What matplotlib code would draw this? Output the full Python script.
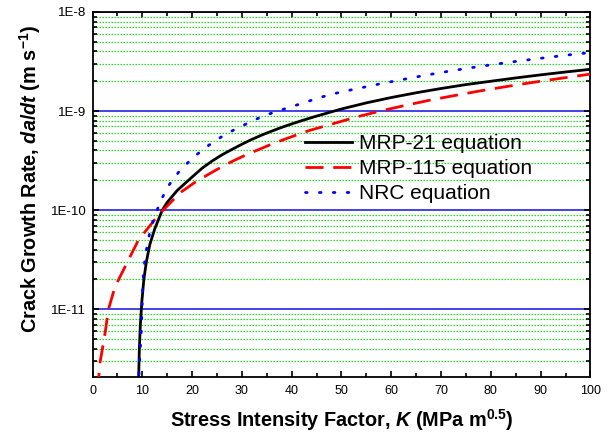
import numpy as np
import matplotlib
matplotlib.use("Agg")
import matplotlib.pyplot as plt
from matplotlib.ticker import LogLocator, MultipleLocator, FixedLocator, NullFormatter

plt.rcParams['font.family'] = ['Liberation Sans', 'DejaVu Sans']
plt.rcParams['mathtext.fontset'] = 'custom'
plt.rcParams['mathtext.rm'] = 'Liberation Sans:bold'
plt.rcParams['mathtext.bf'] = 'Liberation Sans:bold'
plt.rcParams['mathtext.it'] = 'Liberation Sans:italic:bold'

# ---- data ----
mrp21_K = [9.25, 9.4, 9.6, 9.9, 10.3, 10.8, 11.5, 12.5, 14.0, 15, 17, 19, 22, 24, 26, 28,
           30, 32, 34, 36, 38, 40, 42, 45, 50, 55, 60, 65, 70, 75, 80, 85, 90, 95, 100]
mrp21_rate = [2.0e-12, 4.0e-12, 7.0e-12, 1.2e-11, 2.0e-11, 3.0e-11, 4.5e-11, 6.5e-11,
              1.0e-10, 1.2e-10, 1.58e-10, 1.95e-10, 2.65e-10, 3.13e-10, 3.62e-10,
              4.1e-10, 4.63e-10, 5.18e-10, 5.73e-10, 6.28e-10, 6.85e-10, 7.42e-10,
              8.0e-10, 8.9e-10, 1.05e-9, 1.21e-9, 1.37e-9, 1.53e-9, 1.69e-9, 1.85e-9,
              2.0e-9, 2.16e-9, 2.32e-9, 2.48e-9, 2.64e-9]

mrp115_K = [1.0, 1.5, 2.5, 3.2, 4.5, 6.5, 9.2, 13.2, 17.6, 20.5, 23.6, 26, 28.3, 31,
            33.7, 36, 38.4, 41, 43.7, 47.7, 53.1, 58.5, 62.8, 67.8, 73.2, 77.9, 82.9,
            87.9, 92.9, 97.6, 100]
mrp115_rate = [1.5e-12, 2.9e-12, 5.7e-12, 1.0e-11, 1.68e-11, 2.67e-11, 4.98e-11, 8.9e-11,
               1.5e-10, 1.9e-10, 2.35e-10, 2.75e-10, 3.15e-10, 3.65e-10, 4.15e-10,
               4.65e-10, 5.15e-10, 5.75e-10, 6.4e-10, 7.3e-10, 8.75e-10, 1.02e-9,
               1.14e-9, 1.29e-9, 1.45e-9, 1.60e-9, 1.76e-9, 1.93e-9, 2.1e-9, 2.27e-9,
               2.36e-9]

nrc_K = [9.3, 9.5, 9.75, 9.9, 10.0, 10.1, 10.25, 10.6, 11.1, 11.7, 12.6, 13.8, 15.3,
         17.4, 20.1, 23.0, 25.8, 28.5, 31.3, 34.1, 37.0, 40.0, 42.6, 45.4, 48.3, 51.0,
         54.0, 57.0, 60.0, 65.0, 70.0, 75.0, 80.0, 85.0, 90.0, 95.0, 100.0]
nrc_rate = [2.2e-12, 3.4e-12, 5.5e-12, 9.0e-12, 1.25e-11, 1.75e-11, 2.45e-11, 3.43e-11,
            4.8e-11, 6.6e-11, 9.0e-11, 1.28e-10, 1.78e-10, 2.46e-10, 3.37e-10, 4.4e-10,
            5.46e-10, 6.5e-10, 7.6e-10, 8.84e-10, 9.93e-10, 1.11e-9, 1.22e-9, 1.36e-9,
            1.49e-9, 1.60e-9, 1.72e-9, 1.85e-9, 1.98e-9, 2.21e-9, 2.45e-9, 2.69e-9,
            2.93e-9, 3.17e-9, 3.41e-9, 3.66e-9, 3.9e-9]

series_labels = ['MRP-21 equation', 'MRP-115 equation', 'NRC equation']
ytick_values = [1e-11, 1e-10, 1e-9, 1e-8]
ytick_labels = ['1E-11', '1E-10', '1E-9', '1E-8']
xtick_values = [0, 10, 20, 30, 40, 50, 60, 70, 80, 90, 100]

fig = plt.figure(figsize=(6.09, 4.36), dpi=100)
ax = fig.add_axes([0.152, 0.1353, 0.8175, 0.8372])

ax.set_yscale('log')
ax.set_xlim(0, 100)
ax.set_ylim(2.07e-12, 1e-8)

# grid
ax.yaxis.set_major_locator(FixedLocator(ytick_values))
ax.yaxis.set_minor_locator(LogLocator(base=10, subs=np.arange(2, 10), numticks=20))
ax.yaxis.set_minor_formatter(NullFormatter())
ax.set_yticklabels(ytick_labels)
ax.grid(which='major', axis='y', color='#1010e0', lw=1.1, zorder=0)
ax.grid(which='minor', axis='y', color='#22dd22', lw=0.9, ls=(0, (1.2, 1.2)), zorder=0)
ax.grid(False, axis='x', which='both')

ax.xaxis.set_major_locator(FixedLocator(xtick_values))
ax.xaxis.set_minor_locator(MultipleLocator(5))

ax.tick_params(which='both', direction='in', top=True, right=True, width=1.2)
ax.tick_params(which='major', length=4.5)
ax.tick_params(which='minor', length=3)
ax.tick_params(axis='x', which='major', labelsize=9, pad=6)
ax.tick_params(axis='y', which='major', labelsize=9.5, pad=4.5)
for sp in ax.spines.values():
    sp.set_linewidth(1.3)

ax.plot(mrp21_K, mrp21_rate, color='black', lw=2.0, label=series_labels[0], zorder=3)
ax.plot(mrp115_K, mrp115_rate, color='#ff0000', lw=2.0, ls=(0, (6.5, 3.5)),
        label=series_labels[1], zorder=3)
ax.plot(nrc_K, nrc_rate, color='#0000ff', lw=2.0, ls=(0, (0.6, 4.4)),
        dash_capstyle='round', label=series_labels[2], zorder=3)

leg = ax.legend(loc='upper left', bbox_to_anchor=(0.427, 0.665), frameon=False,
                fontsize=15, handlelength=2.25, handletextpad=0.33, labelspacing=0.28,
                borderpad=0, borderaxespad=0)

ax.set_xlabel(r'Stress Intensity Factor, $\mathit{K}$ (MPa m$^{0.5}$)',
              fontsize=14.3, fontweight='bold', labelpad=7)
ax.set_ylabel(r'Crack Growth Rate, $\mathit{da/dt}$ (m s$^{-1}$)',
              fontsize=14.3, fontweight='bold', labelpad=5)
ax.yaxis.set_label_coords(-0.1, 0.5425)

fig.savefig('out.png', dpi=100)
